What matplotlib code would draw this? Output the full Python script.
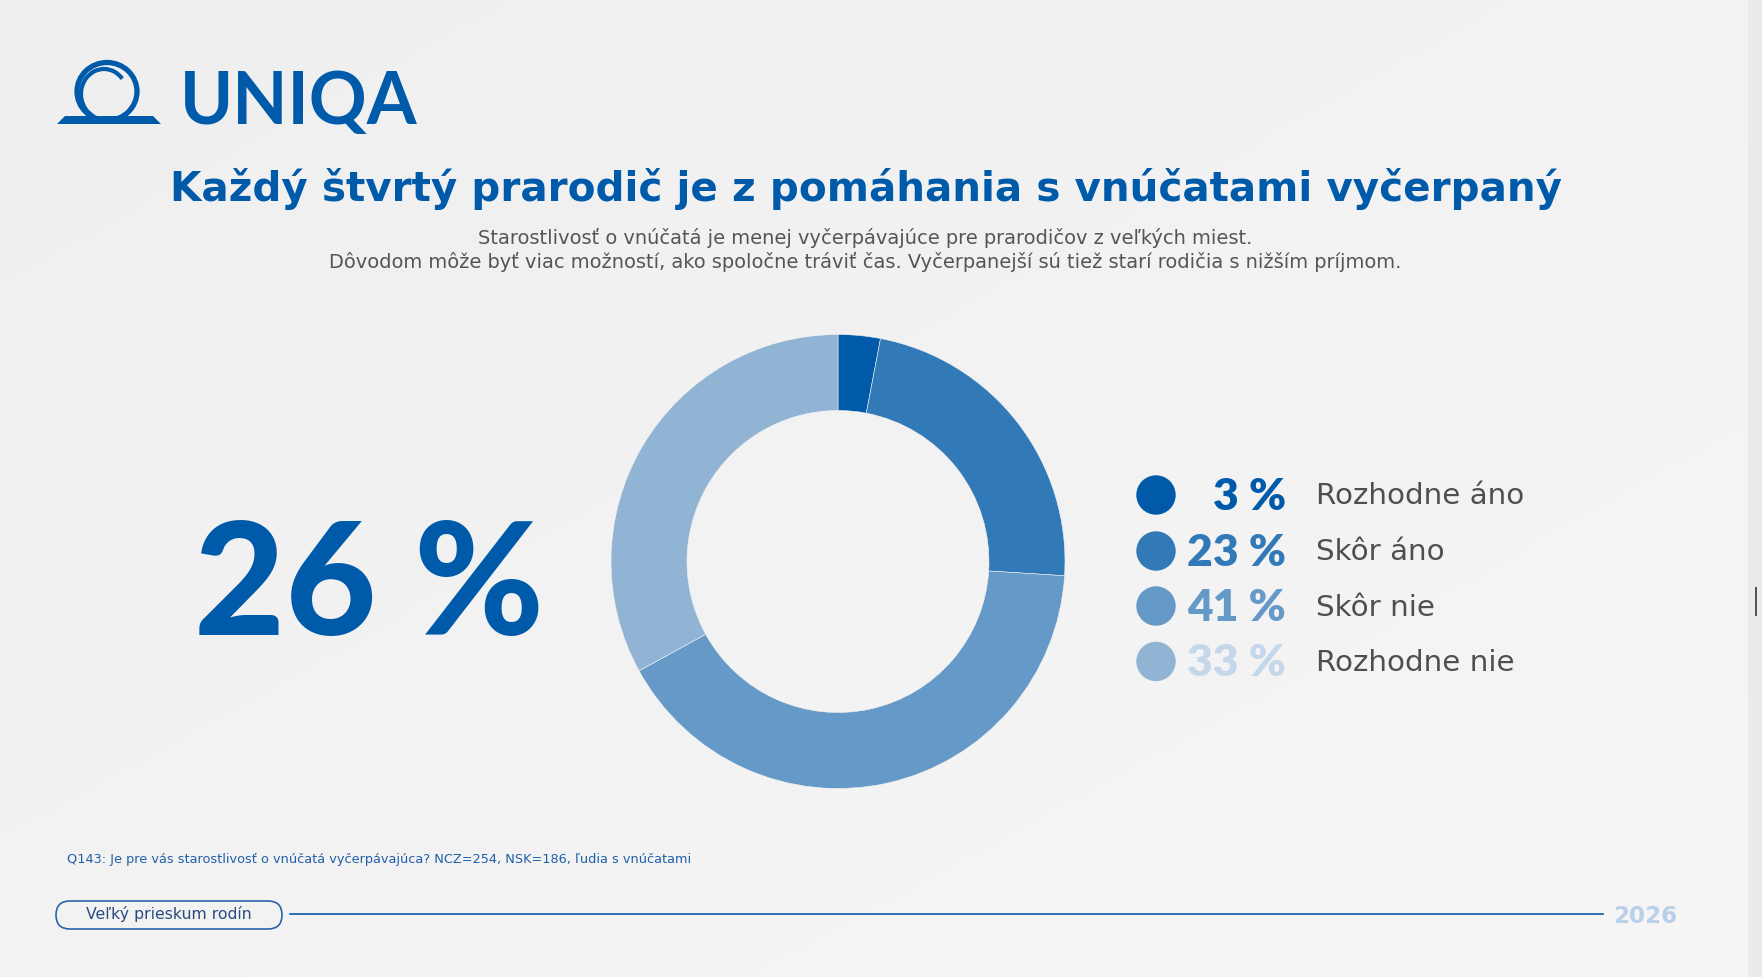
import matplotlib
matplotlib.use("Agg")
import matplotlib.pyplot as plt
import matplotlib.patches as mpatches
import numpy as np

# ---------------- data ----------------
categories = ["Rozhodne áno", "Skôr áno", "Skôr nie", "Rozhodne nie"]
values = [3, 23, 41, 33]
pct_labels = ["3 %", "23 %", "41 %", "33 %"]
headline_value = "26 %"
title = "Každý štvrtý prarodič je z pomáhania s vnúčatami vyčerpaný"
subtitle = ["Starostlivosť o vnúčatá je menej vyčerpávajúce pre prarodičov z veľkých miest.",
            "Dôvodom môže byť viac možností, ako spoločne tráviť čas. Vyčerpanejší sú tiež starí rodičia s nižším príjmom."]
footnote = "Q143: Je pre vás starostlivosť o vnúčatá vyčerpávajúca? NCZ=254, NSK=186, ľudia s vnúčatami"
footer_label = "Veľký prieskum rodín"
year = "2026"

# ---------------- style ----------------
W, H = 1762, 977
BLUE = "#005aaa"
wedge_colors = ["#005aa9", "#3279b7", "#6499c8", "#92b4d4"]
pct_colors = ["#005aaa", "#3279b7", "#6499c8", "#c5d7ea"]
GRAY = "#4f4f4f"
plt.rcParams['font.family'] = ["DejaVu Sans"]

fig = plt.figure(figsize=(W / 100, H / 100), dpi=100)
ax = fig.add_axes([0, 0, 1, 1])
ax.set_xlim(0, W)
ax.set_ylim(H, 0)
ax.axis("off")
renderer = fig.canvas.get_renderer()


def fit_text(x, y, s, width, size0=20, **kw):
    t = ax.text(x, y, s, fontsize=size0, **kw)
    bb = t.get_window_extent(renderer=renderer)
    t.set_fontsize(size0 * width / bb.width)
    return t


def fit_size(s, width, size0=20, **kw):
    t = ax.text(0, 0, s, fontsize=size0, **kw)
    w = t.get_window_extent(renderer=renderer).width
    t.remove()
    return size0 * width / w


# background gradient
gx = np.linspace(0, 1, 200)
gy = np.linspace(0, 1, 120)
GX, GY = np.meshgrid(gx, gy)
g = 0.5 * GX + 0.5 * GY
c0 = np.array([0xef, 0xef, 0xef]) / 255
c1 = np.array([0xf6, 0xf6, 0xf6]) / 255
img = c0[None, None, :] * (1 - g[..., None]) + c1[None, None, :] * g[..., None]
ax.imshow(img, extent=[0, W, H, 0], aspect="auto", zorder=0)
ax.add_patch(mpatches.Rectangle((1748, 0), W - 1748, H, color="#ebebeb", zorder=1, lw=0))
ax.add_patch(mpatches.Rectangle((1755, 587), 2, 29, color="#555555", zorder=2, lw=0))

# logo
ax.add_patch(mpatches.Polygon([(57, 124), (65, 116), (153, 116), (161, 124)],
                              closed=True, color=BLUE, lw=0, zorder=3))
ax.add_patch(mpatches.Ellipse((107, 91.5), 60, 58, fill=False, ec=BLUE, lw=3.8, zorder=3))
ax.add_patch(mpatches.Arc((104, 94), 46, 50, theta1=115, theta2=320, ec=BLUE, lw=3.0, zorder=3))
fit_text(180, 124, "UNIQA", 238, 50, fontweight="bold", color=BLUE, family=["Lato"],
         ha="left", va="baseline", zorder=3)

# title and subtitle
fit_text(866, 201, title, 1391, 30, fontweight="bold", color=BLUE,
         ha="center", va="baseline", zorder=3)
fit_text(865, 244, subtitle[0], 773, 13, color="#555555", ha="center", va="baseline", zorder=3)
fit_text(865, 268, subtitle[1], 1067, 13, color="#555555", ha="center", va="baseline", zorder=3)

# headline number
fit_text(194, 635, headline_value, 350, 113, fontweight="black", color=BLUE, family=["Lato"],
         ha="left", va="baseline", zorder=3)

# donut
cx, cy, R = 838, 561.5, 227
pax = fig.add_axes([(cx - R) / W, (H - cy - R) / H, 2 * R / W, 2 * R / H])
pax.pie(values, colors=wedge_colors, startangle=90, counterclock=False, radius=1,
        wedgeprops=dict(width=1 - 151 / 227, edgecolor="#f2f2f2", linewidth=0.4))
pax.set_xlim(-1, 1)
pax.set_ylim(-1, 1)
pax.set_aspect("equal")
pax.axis("off")

# legend
row_y = [495, 551, 606, 661.5]
pct_size = fit_size(pct_labels[1], 99, 30, fontweight="heavy", family=["Lato"])
lab_size = fit_size(categories[0], 208, 20)
for i, (lab, pl) in enumerate(zip(categories, pct_labels)):
    yy = row_y[i]
    ax.add_patch(mpatches.Circle((1156, yy), 19.7, color=wedge_colors[i], lw=0, zorder=3))
    ax.text(1286, yy + 15, pl, fontsize=pct_size, fontweight="heavy", color=pct_colors[i],
            family=["Lato"], ha="right", va="baseline", zorder=3)
    ax.text(1316, yy + 9.5, lab, fontsize=lab_size, color=GRAY,
            ha="left", va="baseline", zorder=3)

# footnote
fit_text(67, 863, footnote, 622, 9, color="#1f5fa8", ha="left", va="baseline", zorder=3)

# footer
ax.add_patch(mpatches.FancyBboxPatch((56, 901), 226, 28,
                                     boxstyle="round,pad=0,rounding_size=14",
                                     fill=False, ec="#2a64a8", lw=1.2, zorder=3))
fit_text(169, 919.5, footer_label, 167, 11, color="#2b4c7e", ha="center", va="baseline", zorder=3)
ax.plot([290, 1603], [914, 914], color="#0a5aa8", lw=1.2, zorder=3)
fit_text(1613, 923, year, 64, 18, fontweight="bold", color="#b9cfea",
         ha="left", va="baseline", zorder=3)

fig.savefig("out.png", dpi=100, facecolor="#f2f2f2")
